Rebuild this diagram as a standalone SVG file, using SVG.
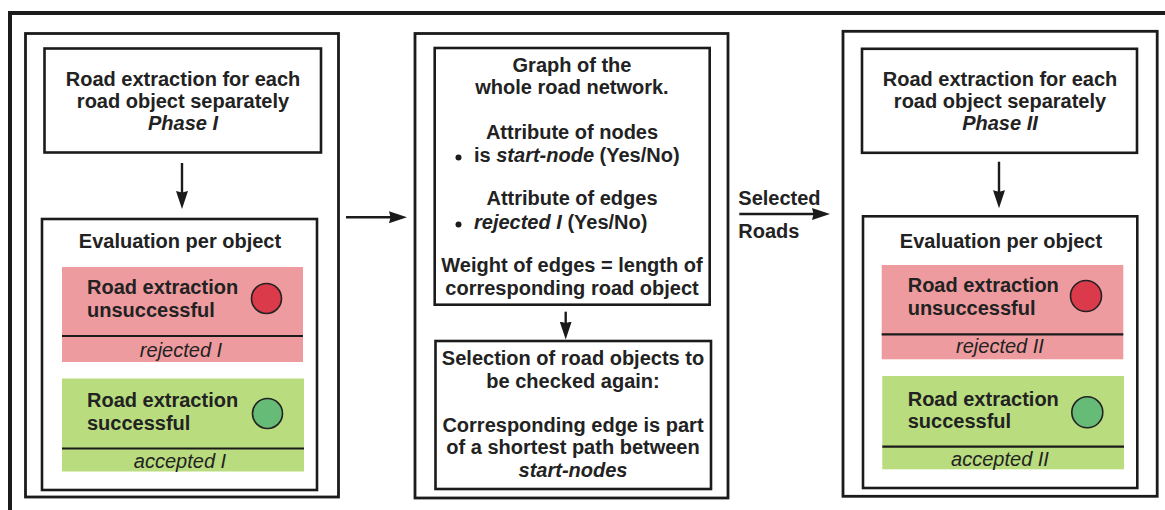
<svg xmlns="http://www.w3.org/2000/svg" width="1165" height="510" viewBox="0 0 1165 510">
  <style>
    .frame{fill:none;stroke:#1b1b1b;stroke-width:4}
    .panel{fill:#fff;stroke:#1b1b1b;stroke-width:2.8}
    .box{fill:#fff;stroke:#1b1b1b;stroke-width:2.6}
    .t{font-family:"Liberation Sans",Arial,Helvetica,sans-serif;font-size:20px;font-weight:bold;fill:#222}
    .c{text-anchor:middle}
    .i{font-style:italic}
    .n{font-weight:normal}
    .bad{fill:#ee9b9f}
    .good{fill:#b9dc7f}
    .sep{stroke:#1b1b1b;stroke-width:2.2}
    .red{fill:#da3a4a;stroke:#222;stroke-width:1.6}
    .grn{fill:#66bb77;stroke:#222;stroke-width:1.6}
    .con{stroke:#1b1b1b;stroke-width:2.4;fill:none;marker-end:url(#ah)}
    .dot{fill:#1b1b1b}
  </style>
  <defs>
    <marker id="ah" markerUnits="userSpaceOnUse" markerWidth="20" markerHeight="13" refX="12" refY="6.5" orient="auto">
      <path d="M0,0.5 L18,6.5 L0,12.5 L1.5,6.5 Z" fill="#1b1b1b"/>
    </marker>
  </defs>

  <rect width="1165" height="510" fill="#fff"/>

  <!-- outer frame, open to the right and bottom -->
  <path class="frame" d="M10,512 V13 H1167"/>

  <!-- Phase I panel -->
  <g id="phase1">
    <rect class="panel" x="25.5" y="33.5" width="313" height="463.5"/>
  </g>
  <g id="extract1">
    <rect class="box" x="44.5" y="48.5" width="276.5" height="104"/>
    <text class="t c" x="183" y="85.5">Road extraction for each</text>
    <text class="t c" x="183" y="107.5">road object separately</text>
    <text class="t c i" x="183" y="130">Phase I</text>
  </g>
  <g id="eval1">
    <rect class="box" x="42" y="219" width="275" height="271"/>
    <text class="t c" x="180" y="248">Evaluation per object</text>
    <g id="rejected1">
      <rect class="bad" x="62" y="267" width="241" height="95"/>
      <line class="sep" x1="62" y1="336" x2="303" y2="336"/>
      <text class="t" x="87" y="294">Road extraction</text>
      <text class="t" x="87" y="316.5">unsuccessful</text>
      <circle class="red" cx="266.5" cy="298.5" r="15"/>
      <text class="t c i n" x="181" y="356.5">rejected I</text>
    </g>
    <g id="accepted1">
      <rect class="good" x="62" y="378.5" width="242" height="93"/>
      <line class="sep" x1="62" y1="448.5" x2="304" y2="448.5"/>
      <text class="t" x="87" y="407">Road extraction</text>
      <text class="t" x="87" y="430">successful</text>
      <circle class="grn" cx="267.5" cy="413.5" r="15"/>
      <text class="t c i n" x="180" y="467.5">accepted I</text>
    </g>
  </g>

  <!-- Graph panel -->
  <g id="graphpanel">
    <rect class="panel" x="415" y="33.5" width="313" height="464.5"/>
  </g>
  <g id="graph">
    <rect class="box" x="434.7" y="48" width="275" height="256.7"/>
    <text class="t c" x="572" y="71.5">Graph of the</text>
    <text class="t c" x="572" y="93.5">whole road network.</text>
    <text class="t c" x="572" y="138.5">Attribute of nodes</text>
    <circle class="dot" cx="458.5" cy="157.5" r="3"/>
    <text class="t" x="474" y="161.5">is <tspan class="i">start-node</tspan> (Yes/No)</text>
    <text class="t c" x="572" y="205">Attribute of edges</text>
    <circle class="dot" cx="458.5" cy="224.5" r="3"/>
    <text class="t" x="474" y="228.5"><tspan class="i">rejected I</tspan> (Yes/No)</text>
    <text class="t c" x="572" y="271.5">Weight of edges = length of</text>
    <text class="t c" x="572" y="295">corresponding road object</text>
  </g>
  <g id="selection">
    <rect class="box" x="435.5" y="341" width="275.5" height="148"/>
    <text class="t c" x="573" y="365">Selection of road objects to</text>
    <text class="t c" x="573" y="388">be checked again:</text>
    <text class="t c" x="573" y="431.5">Corresponding edge is part</text>
    <text class="t c" x="573" y="454">of a shortest path between</text>
    <text class="t c i" x="573" y="476.5">start-nodes</text>
  </g>

  <!-- Phase II panel -->
  <g id="phase2">
    <rect class="panel" x="843" y="31.3" width="314.2" height="465"/>
  </g>
  <g id="extract2">
    <rect class="box" x="862" y="48.8" width="275" height="104"/>
    <text class="t c" x="1000" y="85.5">Road extraction for each</text>
    <text class="t c" x="1000" y="107.5">road object separately</text>
    <text class="t c i" x="1000" y="130">Phase II</text>
  </g>
  <g id="eval2">
    <rect class="box" x="863" y="216.3" width="274.3" height="271.7"/>
    <text class="t c" x="1001" y="248.3">Evaluation per object</text>
    <g id="rejected2">
      <rect class="bad" x="881.7" y="265" width="241.6" height="94.3"/>
      <line class="sep" x1="881.7" y1="334.3" x2="1123.3" y2="334.3"/>
      <text class="t" x="907.7" y="292.3">Road extraction</text>
      <text class="t" x="907.7" y="315">unsuccessful</text>
      <circle class="red" cx="1086" cy="296" r="15.5"/>
      <text class="t c i n" x="1000" y="353.3">rejected II</text>
    </g>
    <g id="accepted2">
      <rect class="good" x="882.3" y="376" width="241.7" height="93.3"/>
      <line class="sep" x1="882.3" y1="446.7" x2="1124" y2="446.7"/>
      <text class="t" x="907.7" y="405.7">Road extraction</text>
      <text class="t" x="907.7" y="428.3">successful</text>
      <circle class="grn" cx="1087.3" cy="412.3" r="15.5"/>
      <text class="t c i n" x="1000" y="466">accepted II</text>
    </g>
  </g>

  <!-- connectors -->
  <g id="connectors">
    <path class="con" d="M182,163 V203"/>
    <path class="con" d="M346,217.3 H401"/>
    <path class="con" d="M565.7,311.7 V333.5"/>
    <path class="con" d="M739.3,214 H824"/>
    <path class="con" d="M999,161.7 V202.3"/>
    <text class="t" x="738.3" y="205">Selected</text>
    <text class="t" x="738.3" y="238.3">Roads</text>
  </g>
</svg>
